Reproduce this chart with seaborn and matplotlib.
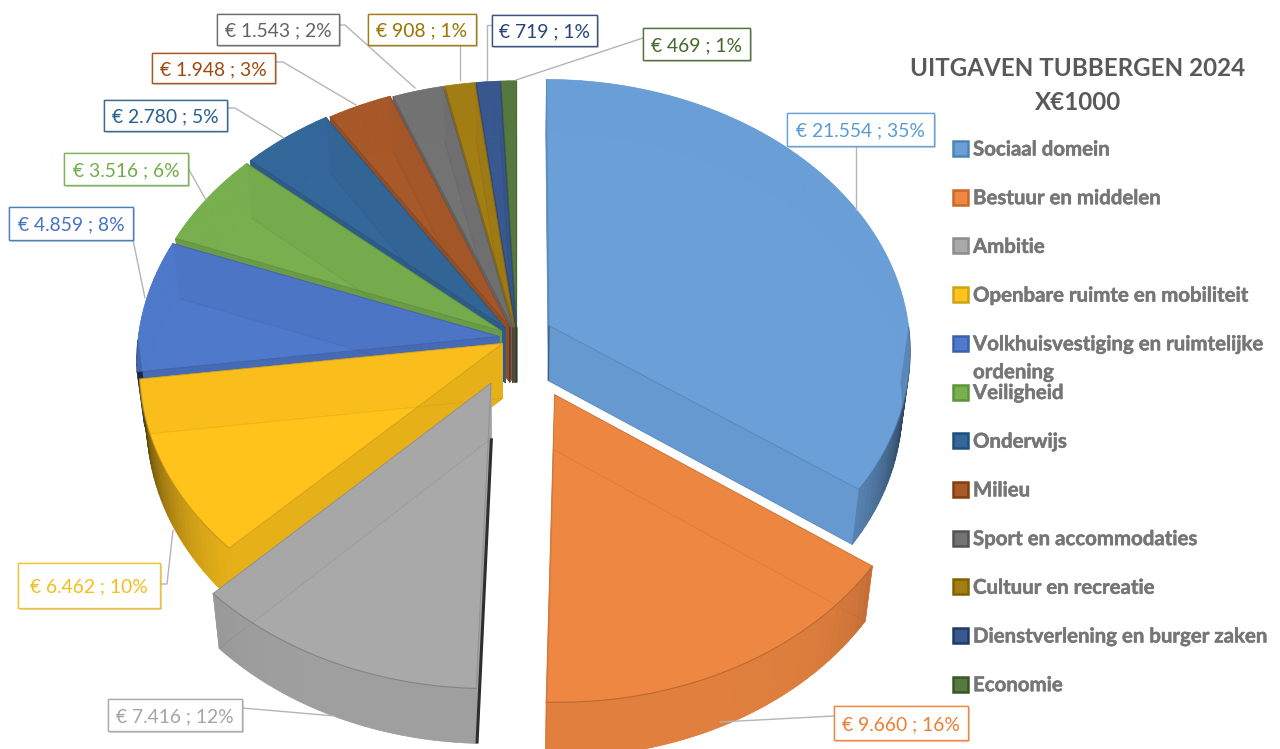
import numpy as np
import matplotlib
matplotlib.use("Agg")
import matplotlib.pyplot as plt
import matplotlib.transforms as mtransforms
import matplotlib.patheffects as pe
from matplotlib.patches import Rectangle
from matplotlib.colors import to_rgb
import seaborn as sns

# ---- data ----
categories = ["Sociaal domein", "Bestuur en middelen", "Ambitie",
              "Openbare ruimte en mobiliteit",
              "Volkhuisvestiging en ruimtelijke\nordening", "Veiligheid",
              "Onderwijs", "Milieu", "Sport en accommodaties",
              "Cultuur en recreatie", "Dienstverlening en burger zaken",
              "Economie"]
values = [21554, 9660, 7416, 6462, 4859, 3516, 2780, 1948, 1543, 908, 719, 469]
labels = ["€ 21.554 ; 35%", "€ 9.660 ; 16%", "€ 7.416 ; 12%", "€ 6.462 ; 10%",
          "€ 4.859 ; 8%", "€ 3.516 ; 6%", "€ 2.780 ; 5%", "€ 1.948 ; 3%",
          "€ 1.543 ; 2%", "€ 908 ; 1%", "€ 719 ; 1%", "€ 469 ; 1%"]
title_lines = ["UITGAVEN TUBBERGEN 2024", "X€1000"]

# ---- styles ----
explode = [0.10, 0.23, 0.18, 0.045, 0.05, 0.05, 0.05, 0.045, 0.04, 0.04, 0.04, 0.04]
wall_shade = [0.96, 0.98, 0.97, 0.90, 0.88, 0.88, 0.88, 0.88, 0.86, 0.86, 0.86, 0.86]
hexes = ["#6A9FD8", "#EE8742", "#A9A9A9", "#FFC31C", "#4F79CB", "#78B050",
         "#34689A", "#A8592A", "#737373", "#A37E14", "#38588F", "#55793F"]
label_colors = ["#5B9BD5", "#ED7D31", "#A5A5A5", "#F2BE1E", "#4472C4", "#70AD47",
                "#255E91", "#9E480E", "#636363", "#997300", "#264478", "#43682B"]
sns.set_theme(style="white")
plt.rcParams["font.family"] = ["Lato", "DejaVu Sans"]
palette = sns.color_palette(hexes)
edge_palette = sns.color_palette(label_colors)

# ---- layout (reference pixels) ----
W, H = 1280, 749
CX, CY, RX, RY, K = 517.0, 338.0, 361.0, 270.0, 0.088
DROP, SHRINK = 55.0, 0.98
boxes = [(787, 113, 934, 146), (834, 706, 968, 740), (108, 699, 242, 731),
         (18, 563, 160, 608), (9, 207, 133, 240), (64, 153, 188, 185),
         (104, 100, 227, 131), (152, 53, 275, 83), (217, 14, 339, 45),
         (368, 14, 476, 45), (492, 15, 597, 46), (643, 28, 750, 60)]
leaders = [[(856, 146), (856, 210)], [(834, 716), (720, 722)],
           [(242, 708), (335, 716)], [(160, 584), (167, 584), (173, 530)],
           [(133, 240), (145, 298)], [(188, 168), (206, 200)],
           [(227, 108), (235, 108), (284, 138)], [(275, 62), (283, 62), (356, 105)],
           [(339, 25), (345, 25), (415, 88)], [(460, 45), (460, 80)],
           [(492, 25), (487, 25), (487, 80)], [(643, 38), (516, 80)]]
legend_y0, legend_step = 148.5, 48.7


class Projection(mtransforms.Transform):
    """Perspective view of the unit pie plane."""
    input_dims = 2
    output_dims = 2
    is_separable = False

    def __init__(self, shrink=1.0, drop=0.0):
        super().__init__()
        self.shrink, self.drop = shrink, drop

    def transform_non_affine(self, values):
        values = np.asarray(values, dtype=float)
        u, v = values[:, 0], values[:, 1]
        p = 1 / (1 + K * v)
        return np.column_stack([CX + self.shrink * RX * u * p,
                                CY - RY * v * p + self.drop])


top_proj, bot_proj = Projection(), Projection(SHRINK, DROP)


def shade(c, f):
    return tuple(min(1, x * f) for x in to_rgb(c))


fig = plt.figure(figsize=(W / 100, H / 100), dpi=100, facecolor="white")
ax = fig.add_axes([0, 0, 1, 1])

bottoms, _ = ax.pie(values, explode=explode, colors=palette, startangle=90,
                    counterclock=False, wedgeprops=dict(linewidth=0))
tops, _ = ax.pie(values, explode=explode, colors=palette, startangle=90,
                 counterclock=False,
                 wedgeprops=dict(linewidth=0, alpha=0.78))
ax.set_aspect("auto")
ax.set_xlim(0, W)
ax.set_ylim(H, 0)
ax.axis("off")

vals = np.asarray(values, float)
cum = np.concatenate([[0], np.cumsum(vals)]) / vals.sum()
t1 = 90 - 360 * cum[:-1]
t2 = 90 - 360 * cum[1:]
mid = np.radians((t1 + t2) / 2)
order = np.argsort(-np.sin(mid))
rank = {i: r for r, i in enumerate(order)}


def quad(a, b, color, z):
    a, b = np.atleast_2d(a), np.atleast_2d(b)
    pts = np.vstack([top_proj.transform(a), top_proj.transform(b),
                     bot_proj.transform(b), bot_proj.transform(a)])
    ax.fill(pts[:, 0], pts[:, 1], color=color, lw=0.4, zorder=z)
    return pts


for i, col in enumerate(palette):
    z = 10 * (rank[i] + 1)
    bottoms[i].set_transform(bot_proj + ax.transData)
    bottoms[i].set_zorder(z + 1)
    tops[i].set_transform(top_proj + ax.transData)
    tops[i].set_zorder(z + 5)

    pivot = explode[i] * np.array([np.cos(mid[i]), np.sin(mid[i])])
    # outer wall
    th = np.radians(np.linspace(t1[i], t2[i], max(3, int(abs(t1[i] - t2[i]) / 1.5))))
    rim_front = []
    for a, b in zip(th[:-1], th[1:]):
        m = (a + b) / 2
        pa = pivot + [np.cos(a), np.sin(a)]
        pb = pivot + [np.cos(b), np.sin(b)]
        if np.sin(m) < 0:
            f = 0.94 - 0.64 * abs(np.cos(m)) ** 8
            quad(pa, pb, shade(col, f), z + 4)
            rim_front += [pa, pb]
        else:
            quad(pa, pb, shade(col, 0.98), z + 2)
    if rim_front:
        r = top_proj.transform(np.array(rim_front))
        ax.plot(r[:, 0], r[:, 1], color=shade(col, 0.74), lw=0.8, alpha=0.8, zorder=z + 6)
    # radial walls
    for ang in (t1[i], t2[i]):
        rim = pivot + [np.cos(np.radians(ang)), np.sin(np.radians(ang))]
        pts = quad(pivot, rim, shade(col, wall_shade[i]), z + 3)
        # fine seams along the top and bottom edge of the wall
        ax.plot(pts[:2, 0], pts[:2, 1], color=shade(col, 0.76), lw=0.7, alpha=0.55, zorder=z + 6)
        ax.plot(pts[2:, 0], pts[2:, 1], color=shade(col, 0.76), lw=0.7, alpha=0.3, zorder=z + 6)
        width = abs(pts[0, 0] - pts[3, 0]) + abs(pts[1, 0] - pts[2, 0])
        if width < 4 and np.cos(mid[i]) < 0 and np.sin(mid[i]) < 0:
            ax.plot(pts[[2, 3], 0], pts[[2, 3], 1], color="#2e2e2e",
                    lw=2.2, zorder=z + 6, solid_capstyle="butt")
        elif width < 4 and np.sin(mid[i]) > 0.3:
            ax.plot(pts[[0, 3], 0], pts[[0, 3], 1], color=shade(col, 0.6),
                    lw=1.0, zorder=z + 6, solid_capstyle="butt")

# data labels
for i, txt in enumerate(labels):
    x0, y0, x1, y1 = boxes[i]
    lx, ly = zip(*leaders[i])
    ax.plot(lx, ly, color="#b5b5b5", lw=1.0, zorder=300)
    rect = Rectangle((x0, y0), x1 - x0, y1 - y0, facecolor="white",
                     edgecolor=edge_palette[i] + (0.85,), lw=1.0, zorder=301,
                     path_effects=[pe.withSimplePatchShadow(offset=(1.5, -1.5),
                                                            alpha=0.25, shadow_rgbFace="#777777"),
                                   pe.Normal()])
    ax.add_patch(rect)
    ax.text((x0 + x1) / 2, (y0 + y1) / 2, txt, color=label_colors[i], fontsize=13.9,
            ha="center", va="center_baseline", zorder=302)

# title
for y, line in zip((68, 103), title_lines):
    ax.text(1078, y, line, color="#595959", fontsize=17.4, fontweight="bold",
            ha="center", va="center", zorder=302)

# legend
stroke = [pe.withStroke(linewidth=0.35, foreground="#767676")]
for i, cat in enumerate(categories):
    y = legend_y0 + i * legend_step
    ax.add_patch(Rectangle((953, y - 7.5), 15, 15, facecolor=hexes[i],
                           edgecolor=shade(label_colors[i], 0.85), lw=1.8, zorder=302))
    ax.text(973, y - 9, cat, color="#767676", fontsize=14.7, fontweight="bold",
            ha="left", va="top", linespacing=1.5, zorder=302, path_effects=stroke)

fig.savefig("out.png", dpi=100, facecolor="white")
